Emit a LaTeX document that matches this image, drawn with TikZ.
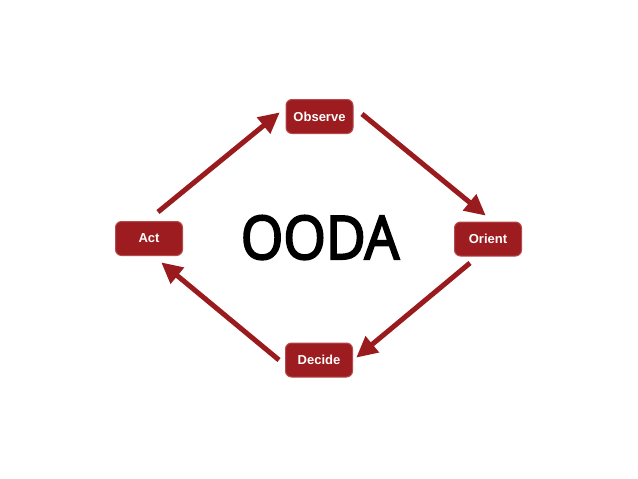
\documentclass[tikz,border=0pt]{standalone}
\usepackage{fontspec}
\setmainfont{Liberation Sans}
\newfontfamily\oodafont[FakeBold=3.5]{Open Sans}
\usetikzlibrary{arrows.meta}
\definecolor{boxred}{HTML}{9C1C20}
\definecolor{boxedge}{HTML}{B54A4D}
\definecolor{arrred}{HTML}{9A1B1E}
\tikzset{
  stepbox/.style={draw=boxedge, line width=1pt, fill=boxred, rounded corners=6pt,
    minimum width=67pt, minimum height=34pt, inner sep=0pt,
    text=white, font=\fontsize{13}{15}\selectfont\bfseries},
  flow/.style={draw=arrred, line width=5pt,
    -{Triangle[length=21pt, width=20pt]}, shorten >=-1pt}
}
\begin{document}
\begin{tikzpicture}[x=1pt, y=-1pt]
\useasboundingbox (0,0) rectangle (638,479);
\node[stepbox] (observe) at (319.5,116.5) {Observe};
\node[stepbox] (act) at (149,238.5) {Act};
\node[stepbox] (orient) at (488,239) {Orient};
\node[stepbox] (decide) at (319,360) {Decide};
\node[font=\oodafont\fontsize{60}{62}\selectfont, inner sep=0pt, anchor=base] (ooda) at (320,259) {\scalebox{0.91}[1]{OODA}};
\coordinate (a1) at (158,212);
\coordinate (a2) at (279,113);
\coordinate (b1) at (362,114);
\coordinate (b2) at (485,215);
\coordinate (c1) at (470,263);
\coordinate (c2) at (357,357);
\coordinate (d1) at (279,360);
\coordinate (d2) at (162,263);
\draw[flow] (a1) -- (a2);
\draw[flow] (b1) -- (b2);
\draw[flow] (c1) -- (c2);
\draw[flow] (d1) -- (d2);
\end{tikzpicture}
\end{document}
